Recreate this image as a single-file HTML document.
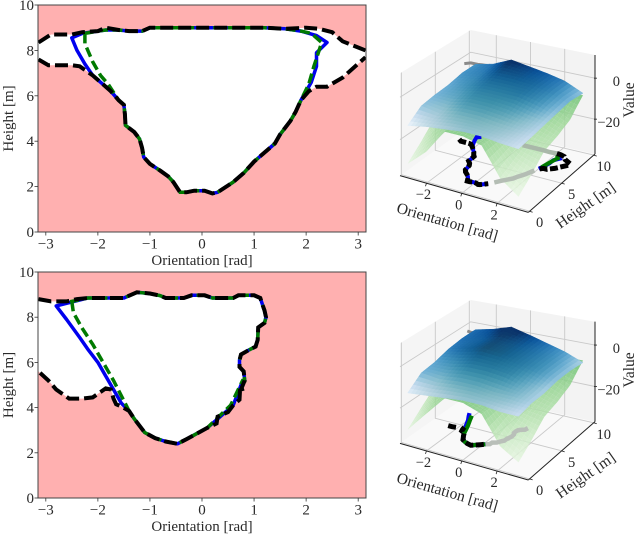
<!DOCTYPE html>
<html>
<head>
<meta charset="utf-8">
<style>
html,body{margin:0;padding:0;background:#fff;width:640px;height:535px;overflow:hidden}
svg{display:block}
text{font-family:"Liberation Serif",serif;fill:#2a2a2a}
</style>
</head>
<body>
<svg id="fig" width="640" height="535" viewBox="0 0 640 535" xmlns="http://www.w3.org/2000/svg"></svg>
<script>
// ---------- Data: top scenario ----------
const topCore = [[-1.6,5.8],[-1.5,5.6],[-1.48,5.2],[-1.47,4.7],[-1.3,4.4],[-1.2,4.1],[-1.15,3.7],[-1.12,3.3],[-1.0,3.0],[-0.8,2.7],[-0.65,2.45],[-0.55,2.2],[-0.42,1.75],[-0.3,1.75],[-0.15,1.82],[0.05,1.82],[0.2,1.7],[0.3,1.75],[0.6,2.2],[0.8,2.6],[1.0,3.1],[1.15,3.4],[1.4,3.9],[1.5,4.3],[1.7,4.9],[1.8,5.3],[1.9,5.8]];
const topRidge = [[1.9,8.85],[1.6,8.95],[1.2,9.0],[0,9.0],[-1.0,9.0],[-1.15,8.85],[-1.4,8.85],[-1.6,8.9],[-1.85,8.9],[-2.0,8.85]];
const topBlueLeft = [[-2.3,8.75],[-2.5,8.55],[-2.4,8.0],[-2.25,7.4],[-2.1,6.9],[-1.9,6.5],[-1.75,6.2]];
const topBlueRight = [[2.0,6.2],[2.1,6.6],[2.2,7.3],[2.2,7.9],[2.4,8.35],[2.2,8.65]];
const topGreenLeft = [[-2.25,8.75],[-2.25,8.3],[-2.1,7.5],[-1.95,6.9],[-1.8,6.5]];
const topGreenRight = [[2.05,6.5],[2.15,7.3],[2.25,8.0],[2.3,8.35],[2.1,8.75]];
const topBlackUpper = [[-3.14,8.35],[-2.9,8.7],[-2.5,8.7],[-2.3,8.8],[-2.0,8.85],[-1.85,9.0],[-1.6,8.9],[-1.4,8.85],[-1.15,8.85],[-1.0,9.0],[0,9.0],[1.2,9.0],[1.6,8.95],[2.0,9.0],[2.25,8.95],[2.5,8.8],[2.7,8.4],[3.14,8.0]];
const topBlackLeadIn = [[-3.14,7.6],[-2.95,7.35],[-2.5,7.35],[-2.35,7.3],[-2.1,6.9],[-1.9,6.5],[-1.75,6.2]];
const topBlackLeadOut = [[2.05,6.2],[2.2,6.4],[2.4,6.4],[2.7,6.8],[3.14,7.7]];

// ---------- Data: bottom scenario ----------
const botCore = [[-1.4,3.85],[-1.3,3.5],[-1.2,3.2],[-1.1,2.9],[-0.9,2.65],[-0.7,2.5],[-0.47,2.4],[-0.3,2.6],[-0.1,2.85],[0.1,3.1]];
const botRim = [[-2.2,8.85],[-1.5,8.85],[-1.4,8.95],[-1.25,9.1],[-1.0,9.05],[-0.8,8.95],[-0.7,8.85],[-0.35,8.85],[-0.2,8.97],[0.05,8.97],[0.2,8.85],[0.6,8.85],[0.7,8.97],[1.0,8.97],[1.12,8.85],[1.17,8.5],[1.2,8.3],[1.23,8.0],[1.2,7.75],[1.08,7.55],[1.07,7.0],[1.03,6.7],[0.9,6.55],[0.75,6.35],[0.72,6.1],[0.72,5.8],[0.8,5.6],[0.82,5.2]];
const botBlueLeft = [[-2.8,8.5],[-2.6,7.9],[-2.35,7.1],[-2.2,6.6],[-2.0,6.0],[-1.85,5.4],[-1.7,4.8],[-1.55,4.2]];
const botBlueRight = [[0.3,3.5],[0.6,4.1],[0.75,5.0]];
const botGreenLeft = [[-2.5,8.7],[-2.47,8.2],[-2.3,7.5],[-2.1,6.8],[-1.9,6.0],[-1.7,5.2],[-1.5,4.3]];
const botGreenRight = [[0.3,3.55],[0.55,4.1],[0.78,5.2]];
const botBlackLead = [[-3.14,8.8],[-2.9,8.7],[-2.6,8.7],[-2.4,8.8]];
const botBlackHook = [[0.75,4.8],[0.82,4.85],[0.73,4.75],[0.72,4.35],[0.6,4.1],[0.5,3.8],[0.3,3.6],[0.28,3.3]];
const botBlackTail = [[-1.55,4.05],[-1.65,4.15],[-1.7,4.4],[-1.75,4.8],[-1.85,4.85],[-2.1,4.45],[-2.3,4.4],[-2.55,4.4],[-2.8,4.8],[-2.95,5.2],[-3.14,5.6]];

// ---------- Data: value surfaces (rows: height 10,8,6,4,2,0 ; cols: orientation -pi .. pi) ----------
const topValueRows = [
 [-5,-3,1,-0.5,-2,-4,-8],
 [-5,-4,-1,-1,-2,-4,-7],
 [-6.5,-5,-3,-3,-3,-5,-8],
 [-7,-7,-5,-5,-6,-8,-9],
 [-8,-9.5,-8,-8,-9,-9.5,-10],
 [-13,-11.3,-10.3,-9.3,-9.3,-10.3,-10.8]];
const topGreenRows = [
 [-16,-12,-8,-8,-8,-9,-9],
 [-16,-12,-10,-10,-10,-12,-16],
 [-16,-12,-10,-10,-12,-16,-19],
 [-18,-13,-11,-11,-14,-20,-21],
 [-25,-15,-11,-11,-14,-23,-27],
 [-31,-23,-11.5,-11.5,-13.5,-26,-32]];
const botValueRows = [
 [-3,-1,1.8,-0.5,-3,-5.5,-9],
 [-3,-2,0,-1,-3,-5,-8],
 [-4,-2,0,-1,-3,-5,-8],
 [-6,-5,-3,-3,-4,-7,-9],
 [-7,-8,-7,-7,-8,-8,-9],
 [-12.3,-11.3,-10.3,-9.3,-9.3,-10.3,-10.3]];
const botGreenRows = [
 [-16,-12,-8,-8,-8,-8,-8],
 [-16,-12,-10,-10,-10,-11,-15],
 [-16,-12,-10,-10,-12,-15,-18],
 [-18,-13,-11,-11,-14,-19,-20],
 [-24,-14,-11,-11,-14,-22,-26],
 [-30,-20,-10.5,-10.5,-13.5,-26,-31]];

// ---------- Tick labels ----------
const orientationTicks = [-3,-2,-1,0,1,2,3];
const heightTicks = [0,2,4,6,8,10];
const orientation3dTicks = [-2,0,2];
const height3dTicks = [0,5,10];
const value3dTicks = [0,-20];

const svg = document.getElementById('fig');
const NS = 'http://www.w3.org/2000/svg';
function add(parent, tag, attrs, name, text){
  const el = document.createElementNS(NS, tag);
  for (const k in attrs) el.setAttribute(k, attrs[k]);
  
  
  if (text !== undefined) el.textContent = text;
  parent.appendChild(el);
  return el;
}
const fmt = v => String(v).replace('-', '\u2212');
const pathOf = (pts, f) => pts.map((p,i)=>{const q=f(p);return (i?'L':'M')+q[0].toFixed(1)+' '+q[1].toFixed(1);}).join('');

// ---------- 2D panel ----------
function panel2d(name, top, bottom, polys, clipId){
  const L=38, R=366;
  const g = add(svg,'g',{},name);
  const sx = o => L+(o+3.15)/6.3*(R-L);
  const sy = h => bottom-(h/10)*(bottom-top);
  const f = p => [sx(p[0]),sy(p[1])];
  const defs = add(g,'defs',{},'clip-defs');
  const cp = add(defs,'clipPath',{id:clipId},'plot-clip');
  add(cp,'rect',{x:L,y:top,width:R-L,height:bottom-top},'plot-clip-rect');
  add(g,'rect',{x:L,y:top,width:R-L,height:bottom-top,fill:'#ffb0b0'},'unsafe-region');
  const clip = add(g,'g',{'clip-path':'url(#'+clipId+')'},'plot-area');
  add(clip,'path',{d:pathOf(polys.safe,f)+'Z',fill:'#fff'},'safe-region');
  add(clip,'path',{d:pathOf(polys.blue,f)+'Z',fill:'none',stroke:'#0000ee','stroke-width':3.5,'stroke-linejoin':'round'},'blue-contour');
  add(clip,'path',{d:pathOf(polys.green,f)+'Z',fill:'none',stroke:'#007a00','stroke-width':3.5,'stroke-dasharray':'10 4.5'},'green-contour');
  polys.black.forEach(b=>{
    add(clip,'path',{d:pathOf(b,f),fill:'none',stroke:'#000','stroke-width':4,'stroke-dasharray':'13 5'},'black-contour');
  });
  add(g,'rect',{x:L,y:top,width:R-L,height:bottom-top,fill:'none',stroke:'#444','stroke-width':1},'plot-frame');
  orientationTicks.forEach(t=>{
    add(g,'line',{x1:sx(t),x2:sx(t),y1:bottom,y2:bottom+3.5,stroke:'#333','stroke-width':0.8},'x-tick');
    add(g,'text',{x:sx(t),y:bottom+16.5,'font-size':15,'text-anchor':'middle'},'x-tick-label',fmt(t));
  });
  heightTicks.forEach(t=>{
    add(g,'line',{x1:L-3.5,x2:L,y1:sy(t),y2:sy(t),stroke:'#333','stroke-width':0.8},'y-tick');
    add(g,'text',{x:L-4,y:sy(t)+5,'font-size':15,'text-anchor':'end'},'y-tick-label',fmt(t));
  });
  add(g,'text',{x:202,y:bottom+33,'font-size':15,'text-anchor':'middle'},'x-axis-title','Orientation [rad]');
  const cy=(top+bottom)/2;
  add(g,'text',{x:13,y:cy,'font-size':15,'text-anchor':'middle',transform:'rotate(-90 13 '+cy+')'},'y-axis-title','Height [m]');
}

// ---------- colour helpers ----------
const blues=['#f7fbff','#deebf7','#c6dbef','#9ecae1','#6baed6','#4292c6','#2171b5','#08519c','#08306b'];
const greens=['#f7fcf5','#e5f5e0','#c7e9c0','#a1d99b','#74c476','#41ab5d','#238b45','#006d2c','#00441b'];
const hex=c=>[1,3,5].map(i=>parseInt(c.substr(i,2),16));
function cmap(s,t){
  t=Math.max(0,Math.min(0.9999,t))*(s.length-1);
  const i=Math.floor(t),a=hex(s[i]),b=hex(s[i+1]),u=t-i;
  return a.map((v,k)=>v+(b[k]-v)*u);
}
const mix=(a,b,u)=>a.map((v,k)=>v+(b[k]-v)*u);
const rgb=a=>'rgb('+a.map(v=>Math.round(v)).join(',')+')';

// ---------- 3D panel ----------
function panel3d(name, ox, oy, c, valueRows, greenRows, contour){
  const g = add(svg,'g',{},name);
  const Z0=-37, Z1=11.3, oMin=-3.5, oMax=3.77, hMin=-0.2, hMax=10.2;
  const S=v=>[ox+v[0]/3, oy+v[1]/3];
  function floor(o,h){
    const t=(o-oMin)/(oMax-oMin), u=(h-hMin)/(hMax-hMin);
    const m=(a,b,d,e)=>a*(1-t)*(1-u)+b*t*(1-u)+d*t*u+e*(1-t)*u;
    return [m(c.FL[0],c.FR[0],c.BR[0],c.BL[0]), m(c.FL[1],c.FR[1],c.BR[1],c.BL[1]), m(c.hFL,c.hFR,c.hBR,c.hBL)];
  }
  function P(o,h,z){
    const q=floor(o,h);
    return S([q[0], q[1]-(z-Z0)/(Z1-Z0)*q[2]]);
  }
  const poly=pts=>pts.map(p=>p[0].toFixed(1)+','+p[1].toFixed(1)).join(' ');
  // panes
  add(g,'polygon',{points:poly([P(oMin,hMin,Z0),P(oMax,hMin,Z0),P(oMax,hMax,Z0),P(oMin,hMax,Z0)]),fill:'#f9f9f9'},'floor-pane');
  add(g,'polygon',{points:poly([P(oMin,hMin,Z0),P(oMin,hMin,Z1),P(oMin,hMax,Z1),P(oMin,hMax,Z0)]),fill:'#f5f5f5'},'left-pane');
  add(g,'polygon',{points:poly([P(oMin,hMax,Z0),P(oMin,hMax,Z1),P(oMax,hMax,Z1),P(oMax,hMax,Z0)]),fill:'#f3f3f3'},'back-pane');
  const grid=(a,b,n)=>add(g,'polyline',{points:poly([a,b].flat()),fill:'none',stroke:'#c9c9c9','stroke-width':0.9},n);
  orientation3dTicks.forEach(t=>{
    grid([P(t,hMin,Z0),P(t,hMax,Z0)],[P(t,hMax,Z1)],'orientation-gridline');
  });
  height3dTicks.forEach(t=>{
    grid([P(oMax,t,Z0),P(oMin,t,Z0)],[P(oMin,t,Z1)],'height-gridline');
  });
  value3dTicks.forEach(t=>{
    grid([P(oMin,hMin,t),P(oMin,hMax,t)],[P(oMax,hMax,t)],'value-gridline');
  });
  // axis lines
  const axisLine=(a,b,n)=>add(g,'line',{x1:a[0],y1:a[1],x2:b[0],y2:b[1],stroke:'#222','stroke-width':1},n);
  axisLine(P(oMin,hMin,Z0),P(oMax,hMin,Z0),'orientation-axis-line');
  axisLine(P(oMax,hMin,Z0),P(oMax,hMax,Z0),'height-axis-line');
  axisLine(P(oMax,hMax,Z0),P(oMax,hMax,Z1),'value-axis-line');
  // surfaces
  const nc=valueRows[0].length-1, nr=valueRows.length-1, sub=5;
  const bil=(G,ci,ri,a,b)=>{
    const A=G[ri][ci],B=G[ri][ci+1],C=G[ri+1][ci],D=G[ri+1][ci+1];
    return (A*(1-a)+B*a)*(1-b)+(C*(1-a)+D*a)*b;
  };
  const oAt=(ci,a)=>-Math.PI+(ci+a)/nc*2*Math.PI;
  const hAt=(ri,b)=>10-(ri+b)/nr*10;
  function surface(G,group,cellName,colour,extra,opaque){
    const sg=add(g,'g',extra,group);
    for(let ri=0;ri<nr;ri++)for(let s=0;s<sub;s++)for(let ci=0;ci<nc;ci++)for(let r=0;r<sub;r++){
      const a0=r/sub,a1=(r+1)/sub,b0=s/sub,b1=(s+1)/sub;
      const pts=[[a0,b0],[a1,b0],[a1,b1],[a0,b1]].map(q=>P(oAt(ci,q[0]),hAt(ri,q[1]),bil(G,ci,ri,q[0],q[1])));
      const am=(a0+a1)/2,bm=(b0+b1)/2;
      const col=colour(bil(G,ci,ri,am,bm),oAt(ci,am),hAt(ri,bm));
      add(sg,'polygon',{points:poly(pts),fill:col,stroke:opaque?col:'none','stroke-width':0.5},cellName);
    }
    return sg;
  }
  const greenColour=z=>rgb(cmap(greens,(z+37)/28*0.52));
  surface(greenRows,'green-surface','green-surface-cell',greenColour,{'fill-opacity':0.86},false);
  // floor contours above the green surface
  contour.lines.forEach(line=>{
    add(g,'path',{d:pathOf(line.pts,p=>P(p[0],p[1],Z0)),fill:'none',stroke:line.colour,'stroke-width':line.w,'stroke-dasharray':line.dash||'none','stroke-linecap':'butt'},line.name);
  });
  // level contour that peeks over the back edge of the value surface
  contour.ridges.forEach(r=>{
    add(g,'path',{d:pathOf(r,p=>P(p[0],p[1],-1)),fill:'none',stroke:'#8a8a8a','stroke-width':3},'surface-level-contour');
  });
  const blueColour=(z,o,h)=>{
    const t=(z+13.5)/13.8;
    const base=cmap(blues,t);
    const po=Math.max(0,1-(o/3.14)*(o/3.14));
    const ph=Math.max(0,1-((h-4)/6)*((h-4)/6));
    return rgb(mix(base,[50,140,125],0.38*po*ph));
  };
  surface(valueRows,'value-surface','value-surface-cell',blueColour,{},true);
  // labels
  orientation3dTicks.forEach(t=>{
    const q=P(t,hMin,Z0);
    add(g,'line',{x1:q[0],y1:q[1],x2:q[0]-1,y2:q[1]+3,stroke:'#222','stroke-width':0.8},'orientation-tick');
    add(g,'text',{x:q[0]-3,y:q[1]+16,'font-size':14.5,'text-anchor':'middle'},'orientation-tick-label',fmt(t));
  });
  height3dTicks.forEach(t=>{
    const q=P(oMax,t,Z0);
    add(g,'line',{x1:q[0],y1:q[1],x2:q[0]+3,y2:q[1]+1,stroke:'#222','stroke-width':0.8},'height-tick');
    add(g,'text',{x:q[0]+10,y:q[1]+16,'font-size':14.5,'text-anchor':'middle'},'height-tick-label',fmt(t));
  });
  value3dTicks.forEach(t=>{
    const q=P(oMax,hMax,t);
    add(g,'line',{x1:q[0]-1,y1:q[1],x2:q[0]+2,y2:q[1],stroke:'#222','stroke-width':0.8},'value-tick');
    add(g,'text',{x:q[0]+25,y:q[1]+8,'font-size':14.5,'text-anchor':'end'},'value-tick-label',fmt(t));
  });
  const l1=S([198,650]), l2=S([625,598]), l3=S([762,270]);
  add(g,'text',{x:l1[0],y:l1[1],'font-size':15.5,'text-anchor':'middle',transform:'rotate(16 '+l1[0]+' '+l1[1]+')'},'orientation-axis-title','Orientation [rad]');
  add(g,'text',{x:l2[0],y:l2[1],'font-size':15.5,'text-anchor':'middle',transform:'rotate(-35 '+l2[0]+' '+l2[1]+')'},'height-axis-title','Height [m]');
  add(g,'text',{x:l3[0],y:l3[1],'font-size':15.5,'text-anchor':'middle',transform:'rotate(-90 '+l3[0]+' '+l3[1]+')'},'value-axis-title','Value');
}

// ---------- assemble ----------
const topBlue=[...topBlueLeft,...topCore,...topBlueRight,...topRidge];
const topGreen=[...topGreenLeft,...topCore,...topGreenRight,...topRidge];
const topLower=[...topBlackLeadIn,...topCore,...topBlackLeadOut];
panel2d('top-contour-plot',5,232,{
  safe:[...topBlackUpper,...topLower.slice().reverse()],
  blue:topBlue, green:topGreen, black:[topBlackUpper,topLower]
},'clipA');

const botBlue=[...botBlueLeft,...botCore,...botBlueRight,...botRim.slice().reverse()];
const botGreen=[...botGreenLeft,...botCore,...botGreenRight,...botRim.slice().reverse()];
const botBlack=[...botBlackLead,...botRim,...botBlackHook,...botCore.slice().reverse(),...botBlackTail];
panel2d('bottom-contour-plot',272,498,{safe:botBlack,blue:botBlue,green:botGreen,black:[botBlack]},'clipB');

const near=(pts,test)=>pts.filter(test);
const leftPart=p=>p[0]<0.75;
const midPart=p=>p[0]>=0.75&&p[0]<2.05;
const rightPart=p=>p[0]>=2.0;
const blackDash='8 2.5';
panel3d('top-surface-plot',380,10,
 {FL:[60,497],FR:[445,607],BR:[645,432],BL:[272,345],hFL:307,hFR:330,hBR:297,hBL:285},
 topValueRows,topGreenRows,{
  ridges:[near(topBlackUpper,p=>p[0]<-1.85&&p[1]>8.3),near(topBlackUpper,p=>p[0]>1.5&&p[1]>8.3)],
  lines:[
   {name:'far-contour-gray',pts:near(topLower,midPart),colour:'#b4bdb4',w:4.5},
   {name:'far-contour-gray-upper',pts:near(topBlackUpper,p=>p[0]>=0&&p[0]<2.1),colour:'#a9b8a9',w:4.5},
   {name:'blue-floor-contour',pts:near(topBlueLeft.concat(topCore),leftPart),colour:'#0000ee',w:4},
   {name:'blue-floor-contour-right',pts:near(topBlueRight,rightPart),colour:'#0000ee',w:4},
   {name:'green-floor-contour-right',pts:near(topGreenRight,rightPart),colour:'#007a00',w:4},
   {name:'black-floor-contour-left',pts:near(topLower,leftPart),colour:'#000',w:5,dash:blackDash},
   {name:'black-floor-contour-right',pts:near(topLower,rightPart),colour:'#000',w:5,dash:blackDash},
   {name:'black-floor-contour-upper',pts:near(topBlackUpper,rightPart),colour:'#000',w:5,dash:blackDash}
  ]});
panel3d('bottom-surface-plot',380,280,
 {FL:[60,490],FR:[445,600],BR:[645,425],BL:[272,340],hFL:300,hFR:325,hBR:300,hBL:280},
 botValueRows,botGreenRows,{
  ridges:[near(botBlackLead,p=>p[0]<-2.5),near(botRim,p=>p[0]>0.6&&p[1]>8.8)],
  lines:[
   {name:'far-contour-gray',pts:near(botRim,p=>p[1]<7.2).concat(botBlackHook,[botCore[botCore.length-1]]),colour:'#b9bfb9',w:4.5},
   {name:'blue-floor-contour',pts:botBlueLeft.slice(2).concat(botCore),colour:'#0000ee',w:4.2},
   {name:'green-floor-contour',pts:botGreenLeft.slice(3).concat(botCore),colour:'#007a00',w:4.2},
   {name:'black-floor-contour',pts:botCore,colour:'#000',w:5,dash:blackDash},
   {name:'black-floor-tail-near',pts:botBlackTail.slice(0,4),colour:'#000',w:5,dash:blackDash},
   {name:'black-floor-tail-far',pts:botBlackTail.slice(5,8),colour:'#000',w:5,dash:blackDash}
  ]});
</script>
</body>
</html>
